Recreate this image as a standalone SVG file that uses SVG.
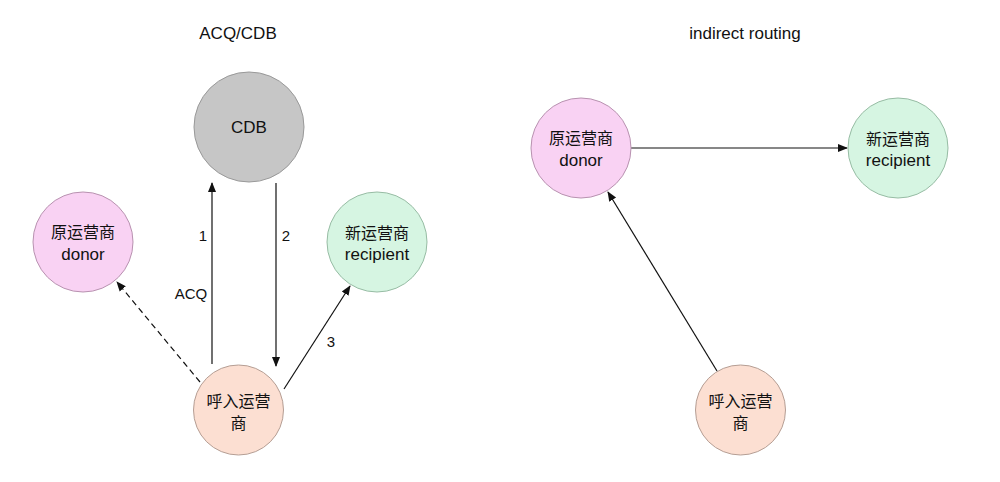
<svg xmlns="http://www.w3.org/2000/svg" width="1000" height="482" viewBox="0 0 1000 482">
<defs>
<marker id="arrB" viewBox="0 0 10 10" refX="9" refY="5" markerWidth="10" markerHeight="10" orient="auto" markerUnits="userSpaceOnUse">
<path d="M0,1 L10,5 L0,9 Z" fill="#111"/>
</marker>
</defs>
<style>
text{font-family:"Liberation Sans","Noto Sans CJK SC",Arial,sans-serif;fill:#111;text-anchor:middle;}
.t{font-size:17px;}
.n{font-size:16px;}
.nl{font-size:17px;}
.l{font-size:15px;}
.e{stroke:#111;stroke-width:1.2;fill:none;marker-end:url(#arrB);}
.cdb{fill:#c6c6c6;stroke:#999;stroke-width:1;}
.don{fill:#f9d2f3;stroke:#b892b0;stroke-width:1;}
.rec{fill:#d6f5e2;stroke:#97bca4;stroke-width:1;}
.cal{fill:#fcdfd2;stroke:#b59e94;stroke-width:1;}
</style>
<rect width="1000" height="482" fill="#fff"/>
<text class="t" x="238" y="39">ACQ/CDB</text>
<text class="t" x="745" y="39">indirect routing</text>

<g id="connectors">
<line class="e" x1="212" y1="364" x2="212" y2="183"/>
<line class="e" x1="276" y1="183" x2="276" y2="366"/>
<line class="e" x1="284" y1="389" x2="350" y2="286"/>
<line class="e" x1="200" y1="382" x2="117" y2="282" stroke-dasharray="6,4"/>
<line class="e" x1="631" y1="148" x2="847" y2="148"/>
<line class="e" x1="717" y1="371" x2="608" y2="192"/>
<text class="l" x="203" y="241">1</text>
<text class="l" x="286" y="241">2</text>
<text class="l" x="191" y="299">ACQ</text>
<text class="l" x="331" y="347">3</text>
</g>

<g id="cdb">
<circle class="cdb" cx="249" cy="127" r="55"/>
<text class="nl" x="249" y="133">CDB</text>
</g>
<g id="donor-left">
<circle class="don" cx="83" cy="242" r="50"/>
<text class="n" x="83" y="238">原运营商</text>
<text class="nl" x="83" y="260">donor</text>
</g>
<g id="recipient-left">
<circle class="rec" cx="377" cy="242" r="50"/>
<text class="n" x="377" y="239">新运营商</text>
<text class="nl" x="377" y="260">recipient</text>
</g>
<g id="caller-left">
<circle class="cal" cx="238.5" cy="410" r="45"/>
<text class="n" x="238.5" y="407">呼入运营</text>
<text class="n" x="238.5" y="429">商</text>
</g>
<g id="donor-right">
<circle class="don" cx="581" cy="148" r="50"/>
<text class="n" x="581" y="144">原运营商</text>
<text class="nl" x="581" y="166">donor</text>
</g>
<g id="recipient-right">
<circle class="rec" cx="898" cy="148" r="50"/>
<text class="n" x="898" y="145">新运营商</text>
<text class="nl" x="898" y="166">recipient</text>
</g>
<g id="caller-right">
<circle class="cal" cx="740.5" cy="410" r="45"/>
<text class="n" x="740.5" y="407">呼入运营</text>
<text class="n" x="740.5" y="429">商</text>
</g>
</svg>
